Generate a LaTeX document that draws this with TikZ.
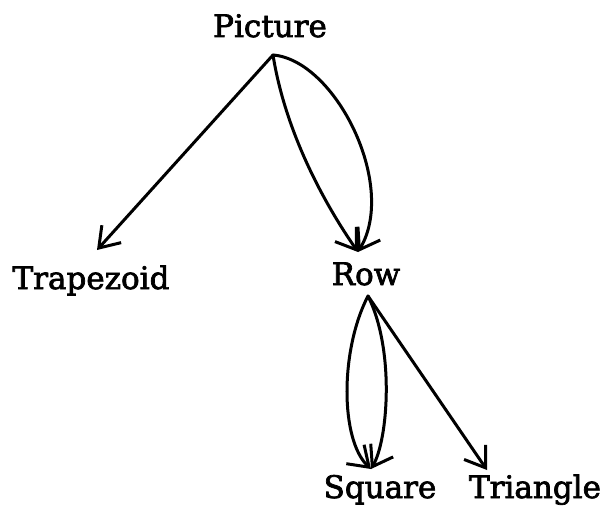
\documentclass[tikz,border=0pt]{standalone}
\usepackage{fontspec}
\setmainfont{DejaVu Serif}
\newfontfamily\labelfont{DejaVu Serif}
% slightly heavier letters: fill and stroke the glyph outlines
\newcommand\heavytext[1]{\special{pdf:literal direct 2 Tr 0.7 w}#1\special{pdf:literal direct 0 Tr}}
\usetikzlibrary{arrows.meta,calc}
\begin{document}
\begin{tikzpicture}[x=1pt,y=-1pt,
  lbl/.style={font=\labelfont\fontsize{31}{34}\selectfont, inner sep=0pt, anchor=base},
  edge/.style={line width=3pt, line cap=round, line join=round,
    -{Straight Barb[length=19pt,width=26pt,line width=3pt]}}]
\useasboundingbox (0,0) rectangle (608,516);
% labels
\node[lbl] (pic) at (270,37) {\heavytext{Picture}};
\node[lbl] (trap) at (91,289) {\heavytext{Trapezoid}};
\node[lbl] (row) at (366,285) {\heavytext{Row}};
\node[lbl] (sq) at (380,498) {\heavytext{Square}};
\node[lbl] (tri) at (535,498) {\heavytext{Triangle}};
% attachment points
\coordinate (picOut) at (273,55);
\coordinate (trapIn) at (97,250);
\coordinate (rowIn) at (358,252);
\coordinate (rowOut) at (368,296);
\coordinate (sqIn) at (371,469);
\coordinate (triIn) at (487,470);
% connectors
\draw[edge] (picOut) -- (trapIn);
\draw[edge] (picOut) .. controls (285,130) and (322,200) .. (rowIn);
\draw[edge] (picOut) .. controls (335,60) and (398,185) .. (rowIn);
\draw[edge] (rowOut) .. controls (340,350) and (340,440) .. (sqIn);
\draw[edge] (rowOut) .. controls (395,350) and (388,440) .. (sqIn);
\draw[edge] (rowOut) -- (triIn);
\end{tikzpicture}
\end{document}
